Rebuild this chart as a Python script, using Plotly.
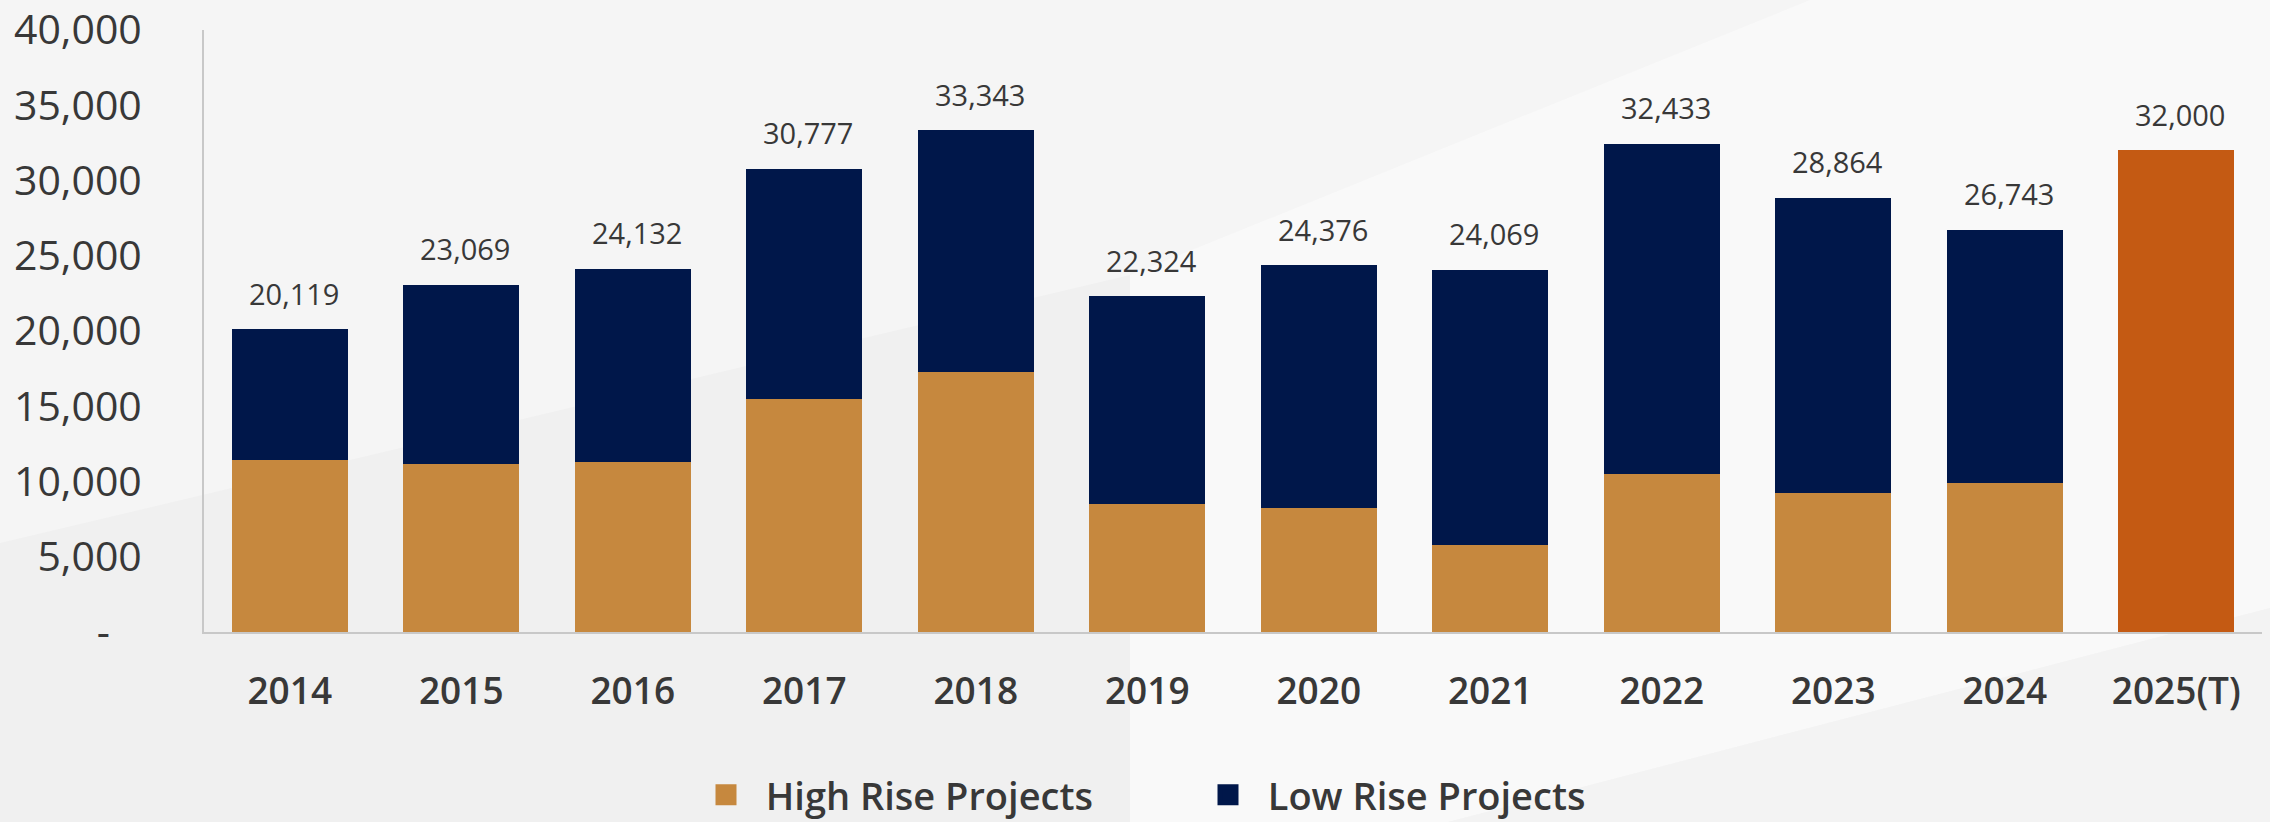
import plotly.graph_objects as go

years = ["2014", "2015", "2016", "2017", "2018", "2019", "2020", "2021", "2022", "2023", "2024", "2025(T)"]
totals = [20119, 23069, 24132, 30777, 33343, 22324, 24376, 24069, 32433, 28864, 26743, 32000]
high_rise = [11400, 11150, 11300, 15450, 17250, 8500, 8250, 5800, 10500, 9250, 9900, None]
target_2025 = [None, None, None, None, None, None, None, None, None, None, None, 32000]
y_tickvals = [0, 5000, 10000, 15000, 20000, 25000, 30000, 35000, 40000]
y_ticktext = ["-\u00a0\u00a0\u00a0", "5,000", "10,000", "15,000", "20,000", "25,000", "30,000", "35,000", "40,000"]
series_names = ["High Rise Projects", "Low Rise Projects"]

low_rise = [t - h if h is not None else None for t, h in zip(totals, high_rise)]
labels = [f"{t:,}" for t in totals]

NAVY = "#00174a"
GOLD = "#c6883e"
RUST = "#c45a13"
TEXT = "#383838"
FONT = "Open Sans"

L, R, T, B = 204, 8, 30, 190
W, H = 2270, 822
pw, ph = W - L - R, H - T - B


def px(x):
    return (x - L) / pw


def py(y):
    return (H - B - y) / ph


fig = go.Figure()
fig.add_trace(go.Bar(x=years, y=high_rise, name=series_names[0], showlegend=False,
                     marker=dict(color=GOLD, line=dict(width=0))))
fig.add_trace(go.Bar(x=years, y=low_rise, name=series_names[1], showlegend=False,
                     marker=dict(color=NAVY, line=dict(width=0))))
fig.add_trace(go.Bar(x=years, y=target_2025, name="Target", showlegend=False,
                     marker=dict(color=RUST, line=dict(width=0))))

# legend entries (swatches only)
for nm, col in zip(series_names, [GOLD, NAVY]):
    fig.add_trace(go.Scatter(x=[None], y=[None], mode="markers", name="\u00a0\u00a0" + nm, showlegend=True,
                             marker=dict(symbol="square", size=20, color=col, line=dict(width=6, color=col))))

for i, (tot, lab) in enumerate(zip(totals, labels)):
    fig.add_annotation(x=i, y=tot, text=lab, showarrow=False, yanchor="middle", yshift=36, xshift=4,
                       font=dict(family=FONT, size=29, color=TEXT, weight=500))

# background decoration
shapes = [
    dict(type="path", xref="paper", yref="paper", layer="below", line=dict(width=0), fillcolor="#f0f0f0",
         path=f"M {px(0)},{py(543)} L {px(1130)},{py(275)} L {px(1130)},{py(822)} L {px(0)},{py(822)} Z"),
    dict(type="path", xref="paper", yref="paper", layer="below", line=dict(width=0), fillcolor="#f9f9f9",
         path=f"M {px(1130)},{py(275)} L {px(1810)},{py(0)} L {px(2270)},{py(0)} L {px(2270)},{py(608)} L {px(1448)},{py(822)} L {px(1130)},{py(822)} Z"),
    dict(type="path", xref="paper", yref="paper", layer="below", line=dict(width=0), fillcolor="#f3f3f3",
         path=f"M {px(1448)},{py(822)} L {px(2270)},{py(608)} L {px(2270)},{py(822)} Z"),
]

fig.update_layout(
    width=W, height=H,
    margin=dict(l=L, r=R, t=T, b=B, autoexpand=False),
    paper_bgcolor="#f5f5f5",
    plot_bgcolor="rgba(0,0,0,0)",
    barmode="stack",
    bargap=0.325,
    shapes=shapes,
    showlegend=True,
    legend=dict(orientation="h", x=px(1208), xanchor="center", y=py(795), yanchor="middle",
                font=dict(family=FONT, size=38, color=TEXT, weight=600), bgcolor="rgba(0,0,0,0)",
                entrywidth=457, itemsizing="trace", traceorder="normal"),
    font=dict(family=FONT, color=TEXT),
)
fig.update_xaxes(type="category", showgrid=False, showline=True, linecolor="#c8c8c8", linewidth=2,
                 range=[-0.5, len(years) - 0.5], automargin=False,
                 ticks="", tickfont=dict(family=FONT, size=37, color=TEXT, weight=600), ticklabelstandoff=26)
fig.update_yaxes(range=[0, 40000], tickvals=y_tickvals, ticktext=y_ticktext, showgrid=False, automargin=False,
                 showline=True, linecolor="#c8c8c8", linewidth=2, zeroline=False, ticks="",
                 tickfont=dict(family=FONT, size=41, color=TEXT), ticklabelstandoff=52)

fig.write_html("out.html", config={"displayModeBar": False},
               post_script="document.body.style.margin='0';document.body.style.overflow='hidden';document.body.style.background='#f5f5f5';")
